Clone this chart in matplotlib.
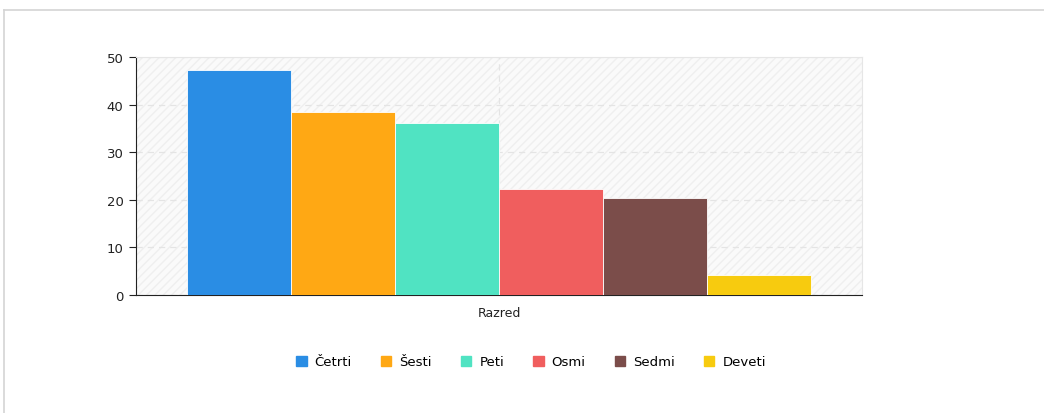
import matplotlib
matplotlib.use("Agg")
import matplotlib.pyplot as plt
from matplotlib.patches import Rectangle
from matplotlib.lines import Line2D

categories = ["Razred"]
series_names = ["Četrti", "Šesti", "Peti", "Osmi", "Sedmi", "Deveti"]
series_values = [47.3, 38.4, 36.1, 22.3, 20.4, 4.2]
colors = ["#2a8de4", "#ffa814", "#50e3c2", "#f05e5e", "#7b4d4a", "#f7cb0f"]
yticks = [0, 10, 20, 30, 40, 50]

fig = plt.figure(figsize=(10.44, 4.14), dpi=100)
W, H = 1044, 414
# outer frame
fig.add_artist(Line2D([4 / W, 1.0], [1 - 11 / H, 1 - 11 / H], color="#d4d4d4", lw=1.2))
fig.add_artist(Line2D([4 / W, 4 / W], [0, 1 - 11 / H], color="#d4d4d4", lw=1.2))

ax = fig.add_axes([136 / W, (H - 296) / H, (862 - 136) / W, (296 - 58) / H])
ax.set_facecolor("#fafafa")
ax.add_patch(Rectangle((0, 0), 1, 1, transform=ax.transAxes, facecolor="none",
                       edgecolor="#efefef", hatch="////", lw=0, zorder=0))

n = len(series_names)
group_w = 0.86
bw = group_w / n
for i, (name, v, c) in enumerate(zip(series_names, series_values, colors)):
    x = -group_w / 2 + bw * (i + 0.5)
    ax.bar(x, v, width=bw, color=c, edgecolor="white", linewidth=0.6, label=name, zorder=3)

ax.set_xlim(-0.5, 0.5)
ax.set_ylim(0, 50)
ax.set_yticks(yticks)
ax.set_xticks([0])
ax.set_xticklabels(categories)
ax.grid(True, axis="both", linestyle=(0, (5, 4)), color="#e4e4e4", lw=0.9, zorder=1)
for s in ["top", "right"]:
    ax.spines[s].set_color("#e6e6e6")
ax.spines["left"].set_color("#222222")
ax.spines["bottom"].set_color("#222222")
ax.tick_params(axis="y", length=5, color="#222222", labelsize=9.5, labelcolor="#222222", pad=4)
ax.tick_params(axis="x", length=0, labelsize=9, labelcolor="#222222", pad=8)

handles = [Rectangle((0, 0), 1, 1, color=c) for c in colors]
fig.legend(handles, series_names, loc="center", bbox_to_anchor=(531 / W, 1 - 363 / H),
           ncol=n, frameon=False, fontsize=9.5, handlelength=0.8, handleheight=0.8,
           handletextpad=0.6, columnspacing=2.2)

fig.savefig("out.png", dpi=100)
